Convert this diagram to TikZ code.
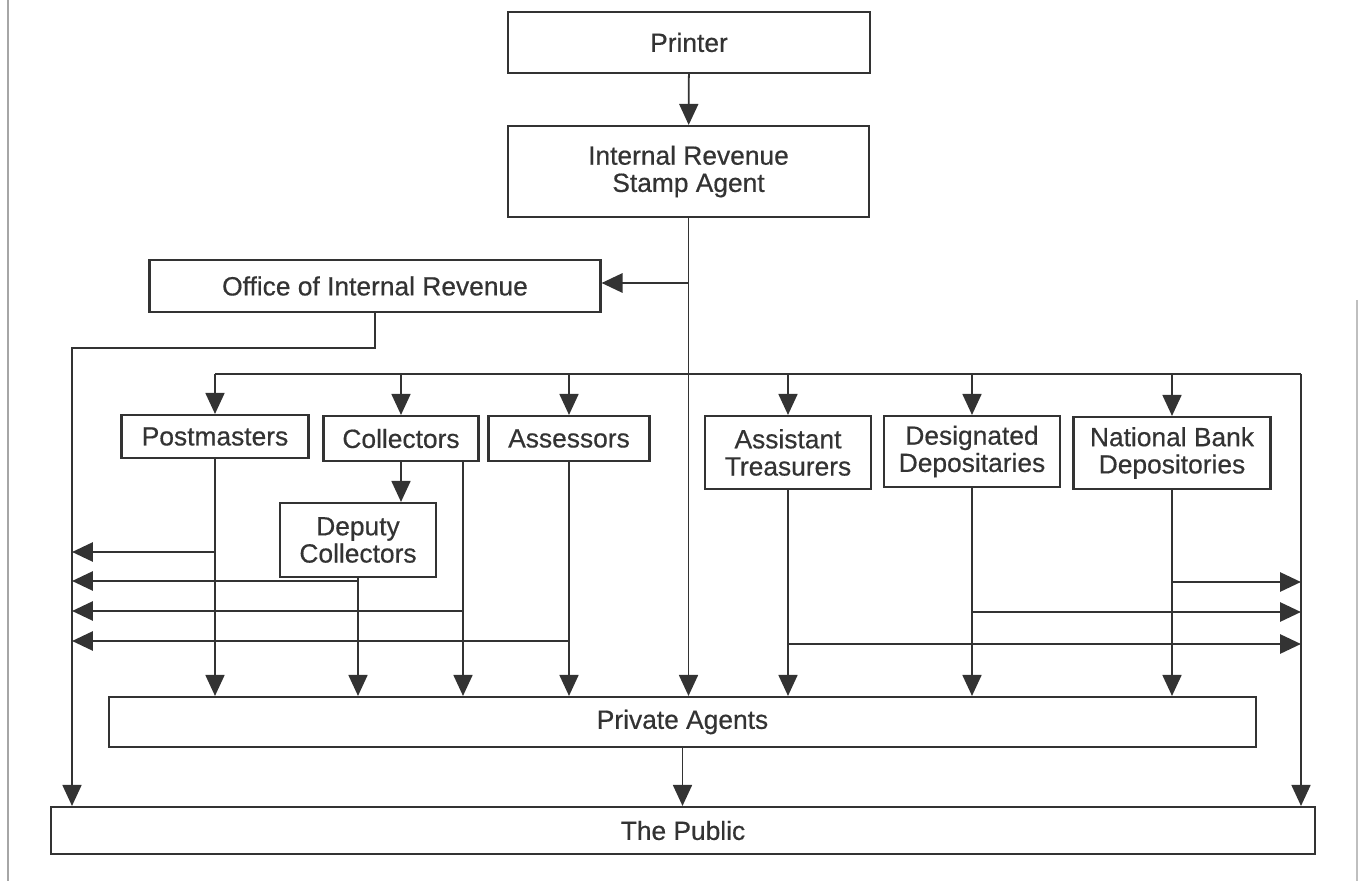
\documentclass[tikz,border=0pt]{standalone}
\usepackage{fontspec}
\setmainfont{Liberation Sans}[UprightFeatures={FakeBold=0.5}]
\usepackage{tikz}
\usetikzlibrary{arrows.meta}
\tikzstyle{arrow} = [line width=1pt,-{Triangle[length=4.2mm,width=3.8mm]}]
\tikzstyle{fatarrow} = [line width=1.7pt,-{Triangle[length=4.2mm,width=3.8mm]}]

\begin{document}
\begin{tikzpicture}
        [
            x=0.02cm, y=-0.02cm, black!80,
            box/.style={rectangle,draw,line width=1.2pt,inner sep=0pt,align=center,
                        font=\fontsize{15}{15.5}\selectfont},
        ]
    \useasboundingbox (0,0) rectangle (1359,881);
    \draw[black!35,line width=0.6pt] (8,0) -- (8,881);
    \draw[black!25,line width=0.6pt] (1357,300) -- (1357,881);

    \node[box,minimum width=7.24cm,minimum height=1.22cm] (printer) at (689,42.5) {Printer};
    \node[box,minimum width=7.22cm,minimum height=1.82cm] (irsa) at (688.5,171.5) {Internal Revenue\\Stamp Agent};
    \node[box,minimum width=9.02cm,minimum height=1.04cm] (oir) at (375,286) {Office of Internal Revenue};
    \node[box,minimum width=3.74cm,minimum height=0.86cm] (post) at (215,436.5) {Postmasters};
    \node[box,minimum width=3.10cm,minimum height=0.90cm] (coll) at (401,438.5) {Collectors};
    \node[box,minimum width=3.22cm,minimum height=0.90cm] (assess) at (569,438.5) {Assessors};
    \node[box,minimum width=3.12cm,minimum height=1.48cm] (deputy) at (358,540) {Deputy\\Collectors};
    \node[box,minimum width=3.32cm,minimum height=1.46cm] (asst) at (788,452.5) {Assistant\\Treasurers};
    \node[box,minimum width=3.52cm,minimum height=1.42cm] (desig) at (972,451.5) {Designated\\Depositaries};
    \node[box,minimum width=3.94cm,minimum height=1.44cm] (natl) at (1172,453) {National Bank\\Depositories};
    \node[box,minimum width=22.94cm,minimum height=1.00cm] (priv) at (682.5,722) {Private Agents};
    \node[box,minimum width=25.28cm,minimum height=0.94cm] (public) at (683,830.5) {The Public};

    \coordinate (turn) at (72,348);
    \coordinate (busL) at (215,374);
    \coordinate (busR) at (1301,374);
    \coordinate (collD) at (463,0 |- coll.south);

    \draw[arrow] (printer) -- (irsa);
    \draw[arrow] (irsa.south) -- (irsa.south |- priv.north);
    \draw[fatarrow] (irsa.south |- 0,283) -- (oir.east |- 0,283);
    \draw[arrow] (oir.south) |- (turn) -- (turn |- public.north);
    \draw[line width=1pt] (busL) -- (busR);
    \draw[arrow] (busR) -- (busR |- public.north);
    \foreach \n in {post,coll,assess,asst,desig,natl}
        \draw[arrow] (\n.north |- busL) -- (\n.north);
    \draw[arrow] (coll.south) -- (coll.south |- deputy.north);
    \foreach \n in {post,deputy,collD,assess,asst,desig,natl}
        \draw[arrow] (\n) -- (\n |- priv.north);
    \foreach \n/\yy in {post/552,deputy/581,collD/611,assess/641}
        \draw[fatarrow] (\n |- 0,\yy) -- (turn |- 0,\yy);
    \foreach \n/\yy in {natl/582,desig/612,asst/644}
        \draw[fatarrow] (\n |- 0,\yy) -- (busR |- 0,\yy);
    \draw[arrow] (priv) -- (priv |- public.north);
\end{tikzpicture}
\end{document}
